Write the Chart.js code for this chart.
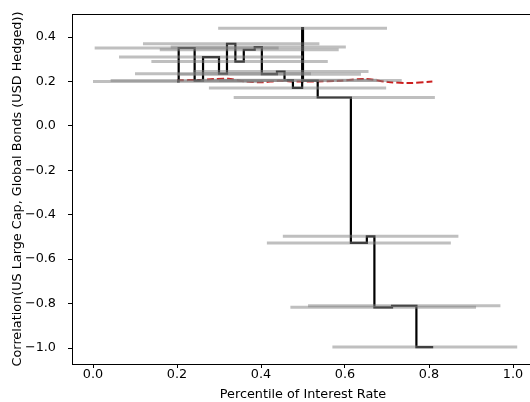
<!DOCTYPE html>
<html>
<head>
<meta charset="utf-8">
<script src="https://cdn.jsdelivr.net/npm/chart.js@4.4.1/dist/chart.umd.min.js"></script>
<style>
  html, body { margin: 0; padding: 0; overflow: hidden; background: #fff; }
  #wrap { width: 540px; height: 402px; }
</style>
</head>
<body>
<div id="wrap"><canvas id="corrChart" width="540" height="402"></canvas></div>
<script>
//
// Step line (value holds from stepX[i] to stepX[i+1])
var stepX = [0.200, 0.204, 0.242, 0.262, 0.300, 0.319, 0.339, 0.359, 0.385, 0.402, 0.438,
             0.456, 0.476, 0.498, 0.500, 0.535, 0.614, 0.652, 0.670, 0.712, 0.770, 0.810];
var stepY = [0.200, 0.351, 0.204, 0.310, 0.235, 0.370, 0.290, 0.343, 0.355, 0.233, 0.245,
             0.206, 0.171, 0.440, 0.204, 0.128, -0.527, -0.497, -0.817, -0.810, -0.996, -0.996];

//
// Red dashed average line
var meanX = [0.200, 0.255, 0.286, 0.322, 0.363, 0.403, 0.441, 0.482, 0.529, 0.584, 0.648, 0.703, 0.751, 0.808];
var meanY = [0.206, 0.207, 0.211, 0.212, 0.200, 0.197, 0.203, 0.200, 0.200, 0.203, 0.211, 0.198, 0.193, 0.200];

//
// Gray window segments
var segY     = [0.200, 0.351, 0.204, 0.310, 0.235, 0.370, 0.290, 0.343, 0.355, 0.233, 0.245,
                0.206, 0.171, 0.440, 0.204, 0.128, -0.527, -0.497, -0.817, -0.810, -0.996];
var segStart = [0.000, 0.004, 0.042, 0.062, 0.100, 0.119, 0.139, 0.159, 0.185, 0.202, 0.238,
                0.256, 0.276, 0.298, 0.300, 0.335, 0.414, 0.452, 0.470, 0.512, 0.570];
var segEnd   = [0.404, 0.442, 0.462, 0.500, 0.519, 0.539, 0.559, 0.585, 0.602, 0.638, 0.656,
                0.676, 0.698, 0.700, 0.735, 0.814, 0.852, 0.870, 0.912, 0.970, 1.010];

//
// Ticks
var xTicks = [0.0, 0.2, 0.4, 0.6, 0.8, 1.0];
var xTickLabels = ['0.0', '0.2', '0.4', '0.6', '0.8', '1.0'];
var yTicks = [-1.0, -0.8, -0.6, -0.4, -0.2, 0.0, 0.2, 0.4];
var yTickLabels = ['\u22121.0', '\u22120.8', '\u22120.6', '\u22120.4', '\u22120.2', '0.0', '0.2', '0.4'];

var tickFont = { family: 'DejaVu Sans', size: 12.8 };

var datasets = [];

// Gray segments first
for (var i = 0; i < segY.length; i++) {
  datasets.push({
    data: [{ x: segStart[i], y: segY[i] }, { x: segEnd[i], y: segY[i] }],
    borderColor: 'rgba(128,128,128,0.5)',
    borderWidth: 3,
    borderCapStyle: 'butt',
    pointRadius: 0,
    showLine: true,
    fill: false
  });
}

// Black step line
datasets.push({
  data: stepX.map(function(x, k){ return { x: x, y: stepY[k] }; }),
  borderColor: '#000',
  borderWidth: 2.2,
  stepped: 'before',
  pointRadius: 0,
  showLine: true,
  fill: false
});

// Red dashed line
datasets.push({
  data: meanX.map(function(x, k){ return { x: x, y: meanY[k] }; }),
  borderColor: '#cc1f1f',
  borderWidth: 2,
  borderDash: [7, 3],
  tension: 0.3,
  pointRadius: 0,
  showLine: true,
  fill: false
});

//
// Frame round the plot area
var frame = {
  id: 'frame',
  afterDatasetsDraw: function(chart){
    var a = chart.chartArea, c = chart.ctx;
    c.save();
    c.strokeStyle = '#000';
    c.lineWidth = 1;
    c.strokeRect(Math.round(a.left) + 0.5, Math.round(a.top) + 0.5,
                 Math.round(a.right - a.left), Math.round(a.bottom - a.top));
    c.restore();
  }
};

new Chart(document.getElementById('corrChart').getContext('2d'), {
  type: 'scatter',
  data: { datasets: datasets },
  options: {
    responsive: false,
    animation: false,
    devicePixelRatio: 1,
    layout: { padding: { top: 14, right: 6, bottom: 0, left: 0 } },
    plugins: {
      legend: { display: false },
      tooltip: { enabled: false }
    },
    scales: {
      x: {
        type: 'linear',
        min: -0.05,
        max: 1.05,
        afterFit: function(s){ s.height = 38; s.paddingLeft = 0; s.paddingRight = 0; },
        afterBuildTicks: function(s){ s.ticks = xTicks.map(function(v){ return { value: v }; }); },
        border: { display: false },
        grid: { drawOnChartArea: false, drawTicks: true, tickLength: 4, color: '#000' },
        ticks: {
          color: '#000',
          font: tickFont,
          padding: -1,
          maxRotation: 0,
          callback: function(v){ return xTickLabels[xTicks.indexOf(v)]; }
        },
        title: {
          display: true,
          text: 'Percentile of Interest Rate',
          color: '#000',
          font: tickFont,
          padding: { top: 0, bottom: 0 }
        }
      },
      y: {
        type: 'linear',
        min: -1.072,
        max: 0.504,
        afterFit: function(s){ s.width = 72; s.paddingTop = 0; s.paddingBottom = 0; },
        afterBuildTicks: function(s){ s.ticks = yTicks.map(function(v){ return { value: v }; }); },
        border: { display: false },
        grid: { drawOnChartArea: false, drawTicks: true, tickLength: 4, color: '#000' },
        ticks: {
          color: '#000',
          font: tickFont,
          padding: 12,
          callback: function(v){ return yTickLabels[yTicks.indexOf(v)]; }
        },
        title: {
          display: true,
          text: 'Correlation(US Large Cap, Global Bonds (USD Hedged))',
          color: '#000',
          font: tickFont,
          padding: { top: 10, bottom: 0 }
        }
      }
    }
  },
  plugins: [frame]
});
</script>
</body>
</html>
